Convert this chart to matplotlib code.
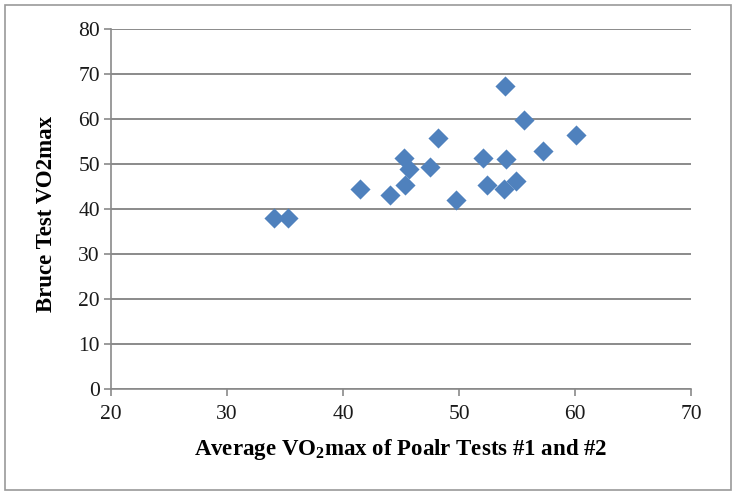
import matplotlib
matplotlib.use("Agg")
import matplotlib.pyplot as plt
from matplotlib.patches import Rectangle

avg_polar = [34.05, 35.28, 41.47, 44.08, 45.26, 45.66, 45.37, 47.5, 48.22, 49.74,
             52.07, 52.41, 53.85, 54.08, 53.99, 54.94, 55.6, 57.27, 60.06]
bruce = [38.1, 38.1, 44.6, 43.2, 51.5, 48.9, 45.4, 49.4, 55.8, 42.0,
         51.5, 45.5, 44.5, 51.1, 67.3, 46.4, 59.9, 53.0, 56.6]
x_ticks = [20, 30, 40, 50, 60, 70]
y_ticks = [0, 10, 20, 30, 40, 50, 60, 70, 80]

plt.rcParams['font.family'] = ['Liberation Serif', 'DejaVu Serif']
plt.rcParams['mathtext.fontset'] = 'custom'
plt.rcParams['mathtext.rm'] = 'Liberation Serif:bold'
plt.rcParams['mathtext.bf'] = 'Liberation Serif:bold'

W, H = 737, 496
fig = plt.figure(figsize=(W / 100, H / 100), dpi=100)
ax = fig.add_axes([111 / W, 1 - 389.3 / H, 580 / W, 360 / H])

grid_c = '#8a8a8a'
ax.scatter(avg_polar, bruce, marker='D', s=105, color='#4F81BD', zorder=3, linewidths=0)
ax.set_xlim(20, 70)
ax.set_ylim(0, 80)
ax.set_xticks(x_ticks)
ax.set_yticks(y_ticks)
ax.yaxis.grid(True, color=grid_c, linewidth=1.4)
ax.set_axisbelow(True)
for s in ['top', 'right']:
    ax.spines[s].set_visible(False)
for s in ['left', 'bottom']:
    ax.spines[s].set_color(grid_c)
    ax.spines[s].set_linewidth(1.2)
ax.tick_params(axis='both', colors=grid_c, labelcolor='#1a1a1a', labelsize=15.5,
               length=5, width=1.2)
ax.tick_params(axis='x', pad=6)
ax.tick_params(axis='y', pad=3)

xl = ax.set_xlabel(r'Average VO$_{\mathbf{2}}$max of Poalr Tests #1 and #2',
                   fontsize=16.5, fontweight='bold', va='center')
ax.xaxis.set_label_coords(0.5, (389.3 - 450) / 360)
yl = ax.set_ylabel('Bruce Test VO2max', fontsize=16.5, fontweight='bold', va='center')
ax.yaxis.set_label_coords((47 - 111) / 580, (389.3 - 214) / 360)

fig.add_artist(Rectangle((5 / W, 6 / H), 726 / W, 485 / H, transform=fig.transFigure,
                         fill=False, edgecolor='#999999', linewidth=1.2))

fig.savefig('out.png', dpi=100)
